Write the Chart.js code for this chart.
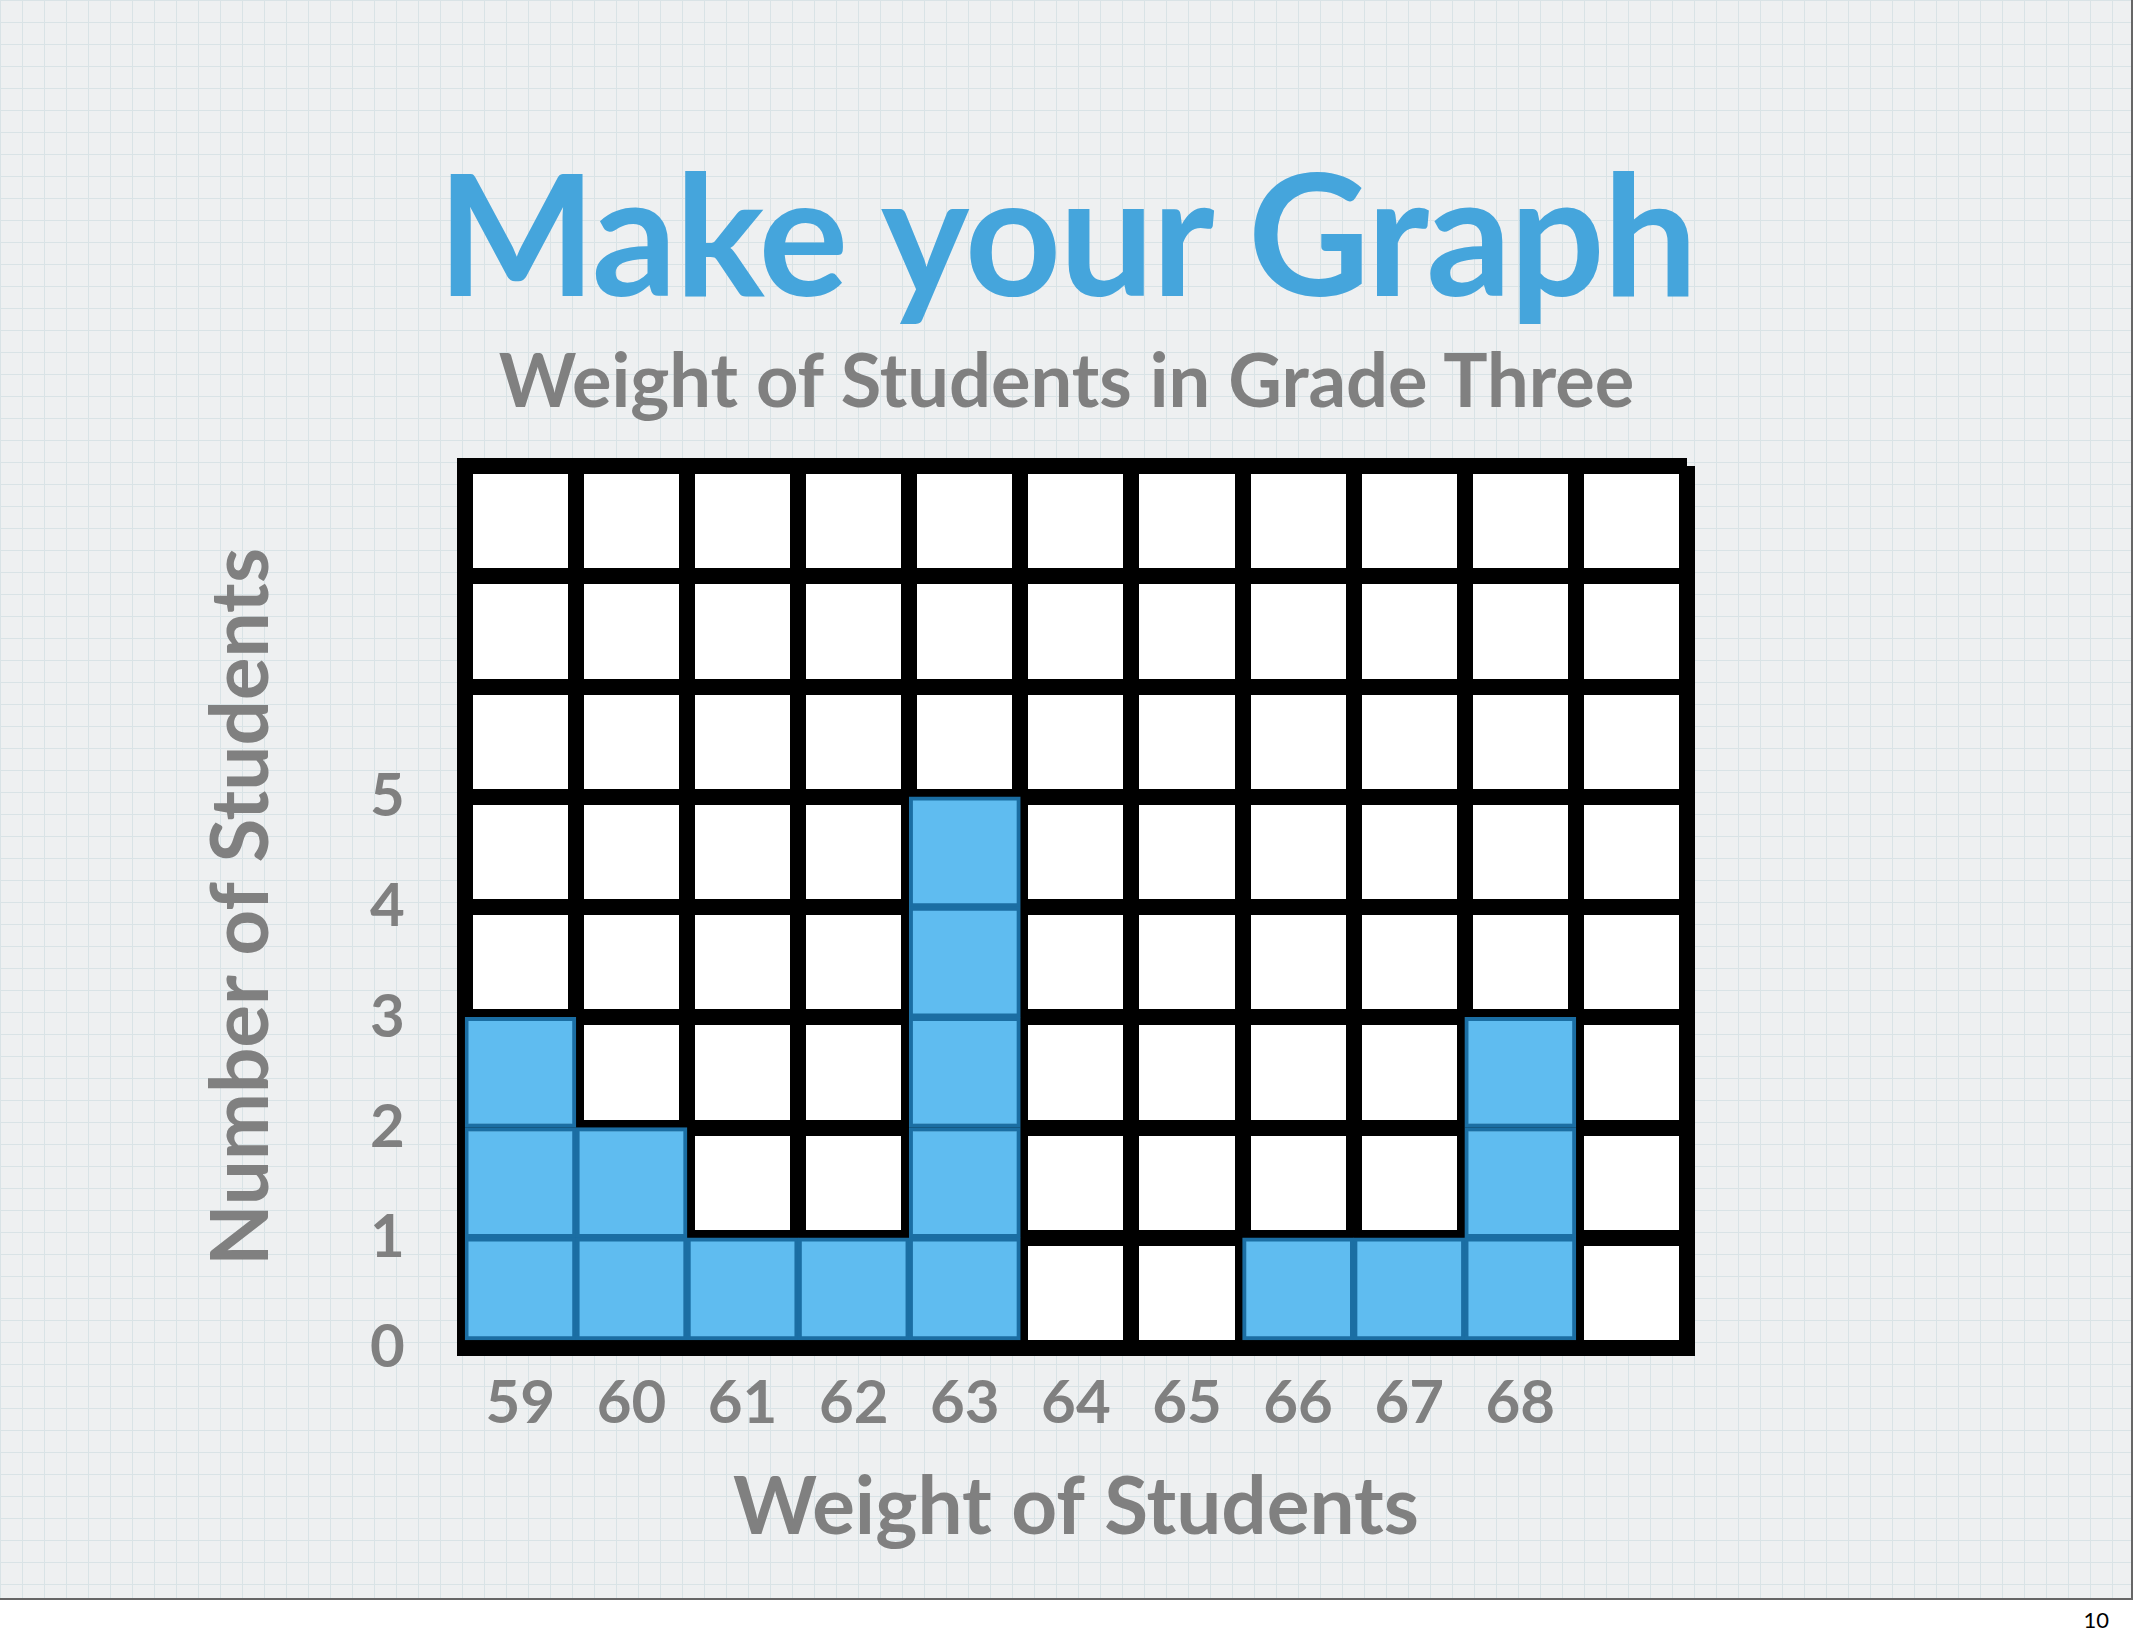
<!DOCTYPE html>
<html><head><meta charset="utf-8">
<script src="https://cdn.jsdelivr.net/npm/chart.js@4"></script>
<style>
html,body{margin:0;padding:0;width:2133px;height:1642px;overflow:hidden;background:#fff;font-family:Lato,sans-serif}
#slide{position:absolute;left:0;top:0;width:2131px;height:1598px;border-right:2px solid #666;border-bottom:2px solid #666;
background-color:#eef0f1;
background-image:linear-gradient(#d9e3e6 1px,transparent 1px),linear-gradient(90deg,#d9e3e6 1px,transparent 1px);
background-size:22px 22px;}
#title{position:absolute;left:0;width:2133px;top:130px;text-align:center;font:bold 168px Lato,sans-serif;color:#45a5dc;letter-spacing:-2px}
#sub{position:absolute;left:0;width:2133px;top:334px;text-align:center;font:bold 74px Lato,sans-serif;color:#808080}
#pg{position:absolute;right:24px;top:1606px;font:22px Lato,sans-serif;color:#000}
#wrap{position:absolute;left:0;top:370px;width:2133px;height:1230px}
</style></head><body>
<div id="slide"></div>
<div id="title">Make your Graph</div>
<div id="sub">Weight of Students in Grade Three</div>
<div id="pg">10</div>
<div id="wrap"><canvas id="c" width="2133" height="1230"></canvas></div>
<script>
const categories=['59','60','61','62','63','64','65','66','67','68',''];
const counts=[3,2,1,1,5,0,0,1,1,3,0];
const yTicksShown=[0,1,2,3,4,5];
const yMax=8;
const layers=[];
const maxC=Math.max(...counts);
for(let k=1;k<=maxC;k++){
  layers.push({data:counts.map(c=>c>=k?1:0),backgroundColor:'#5fbcf0',borderColor:'#1b6ea3',borderWidth:4,borderSkipped:false,stack:'s'});
}
new Chart(document.getElementById('c'),{
  type:'bar',
  data:{labels:categories,datasets:layers},
  options:{
    responsive:false,animation:false,
    layout:{padding:{left:190,right:446,top:22,bottom:40}},
    plugins:{legend:{display:false},tooltip:{enabled:false}},
    datasets:{bar:{categoryPercentage:1,barPercentage:1}},
    scales:{
      x:{stacked:true,grid:{color:'#000',lineWidth:16,drawTicks:false},border:{color:'#000',width:16},
        ticks:{color:'#808080',font:{family:'Lato',weight:'bold',size:60},padding:20},
        title:{display:true,text:'Weight of Students',color:'#808080',font:{family:'Lato',weight:'bold',size:80},padding:{top:0}}},
      y:{stacked:true,min:0,max:yMax,grid:{color:'#000',lineWidth:16,drawTicks:false},border:{color:'#000',width:16},
        ticks:{stepSize:1,color:'#808080',font:{family:'Lato',weight:'bold',size:60},padding:60,
          callback:v=>yTicksShown.includes(v)?String(v):''},
        title:{display:true,text:'Number of Students',color:'#808080',font:{family:'Lato',weight:'bold',size:80},padding:{bottom:20}}}
    }
  },
  plugins:[{id:'bg',beforeDraw(ch){const a=ch.chartArea,x=ch.ctx;x.save();x.fillStyle='#fff';x.fillRect(a.left,a.top,a.right-a.left,a.bottom-a.top);x.restore();}}]
});
</script>
</body></html>
